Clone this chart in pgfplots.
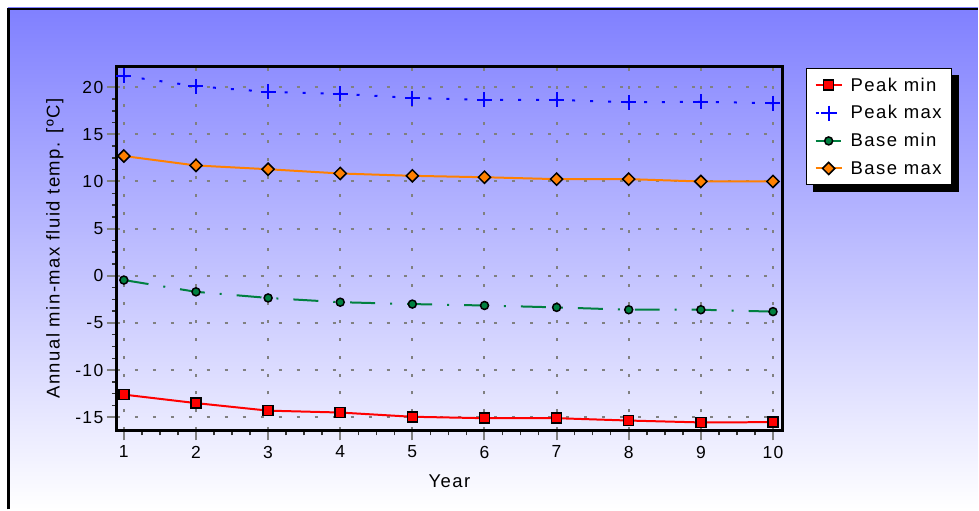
\documentclass[border=0pt]{standalone}
\usepackage{fontspec}
\setmainfont{Liberation Sans}
\newfontfamily\lblfont[LetterSpace=8]{Liberation Sans}
\newfontfamily\tickfont[LetterSpace=8]{Liberation Sans}
\newfontfamily\legfont[LetterSpace=8]{Liberation Sans}
\usepackage{pgfplots}
\pgfplotsset{compat=1.18}
\definecolor{bgtop}{RGB}{128,128,255}
\definecolor{pmin}{RGB}{255,0,0}
\definecolor{pmax}{RGB}{0,0,255}
\definecolor{bmin}{RGB}{0,128,64}
\definecolor{bmax}{RGB}{255,128,0}
\definecolor{gridgray}{RGB}{128,128,128}
\pgfdeclarelayer{bglayer}
\pgfdeclarelayer{shadowlayer}
\pgfsetlayers{bglayer,shadowlayer,main}
\begin{document}
\begin{tikzpicture}[x=1pt,y=1pt]
\begin{pgfonlayer}{bglayer}
\path[fill=white] (0,0) rectangle (979,510);
\shade[top color=bgtop, bottom color=white] (8,0) rectangle (979,502);
\draw[black, line width=2.5pt] (8.5,0) -- (8.5,501.2) -- (979,501.2);
\end{pgfonlayer}
\begin{axis}[
  at={(117pt,79pt)}, anchor=south west,
  width=666pt, height=364pt, scale only axis,
  xmin=0.903, xmax=10.125, ymin=-16.4, ymax=22.15,
  xtick={1,...,10}, ytick={-15,-10,...,20},
  minor x tick num=3, minor y tick num=3,
  tick align=outside, xtick pos=bottom, ytick pos=left,
  major tick length=10pt, minor tick length=5pt,
  major tick style={draw=gridgray, line width=2pt},
  minor tick style={draw=black!80, line width=1.5pt},
  grid=major,
  major grid style={draw=gridgray, line width=2pt, dash pattern=on 3pt off 15pt},
  axis line style={line width=3pt, line cap=rect},
  ticklabel style={font=\tickfont\fontsize{17.5pt}{20pt}\selectfont},
  xticklabel style={yshift=-2pt},
  /pgf/number format/assume math mode=true,
  xlabel={Year}, ylabel={Annual min-max fluid temp. [ºC]},
  label style={font=\lblfont\fontsize{18.5pt}{22pt}\selectfont},
  xlabel style={yshift=-10pt},
  ylabel style={yshift=5pt},
  legend style={name=leg, at={(1.036,0.997)}, anchor=north west, draw=black, line width=1.5pt,
    fill=white, font=\legfont\fontsize{18.5pt}{22pt}\selectfont,
    inner xsep=8pt, inner ysep=7pt, row sep=9pt,
    /tikz/every odd column/.append style={column sep=6pt}},
  legend cell align=left,
  legend image code/.code={\draw[mark repeat=2,mark phase=2,#1] plot coordinates {(0pt,0pt) (13pt,0pt) (26pt,0pt)};},
  clip=false,
]
\addplot[color=pmin, line width=2pt, mark=square*, mark size=5pt,
  mark options={solid, fill=pmin, draw=black, line width=1.5pt}]
  coordinates {(1,-12.6) (2,-13.5) (3,-14.3) (4,-14.5) (5,-14.95) (6,-15.1) (7,-15.1) (8,-15.35) (9,-15.55) (10,-15.52)};
\addlegendentry{Peak min}
\addplot[color=pmax, line width=2pt, dash pattern=on 3pt off 15pt, mark=+, mark size=7.5pt,
  mark options={solid, line width=2pt}]
  coordinates {(1,21.2) (2,20.1) (3,19.5) (4,19.3) (5,18.85) (6,18.65) (7,18.65) (8,18.4) (9,18.45) (10,18.3)};
\addlegendentry{Peak max}
\addplot[color=bmin, line width=2pt, dash pattern=on 25pt off 15pt on 2pt off 15pt, mark=*, mark size=4pt,
  mark options={solid, fill=bmin, draw=black, line width=1.5pt}]
  coordinates {(1,-0.45) (2,-1.7) (3,-2.35) (4,-2.8) (5,-3.0) (6,-3.15) (7,-3.35) (8,-3.6) (9,-3.6) (10,-3.8)};
\addlegendentry{Base min}
\addplot[color=bmax, line width=2pt, mark=square*, mark size=4.3pt,
  mark options={solid, rotate=45, fill=bmax, draw=black, line width=1.5pt}]
  coordinates {(1,12.7) (2,11.7) (3,11.3) (4,10.85) (5,10.6) (6,10.45) (7,10.25) (8,10.25) (9,10.0) (10,10.0)};
\addlegendentry{Base max}
\end{axis}
\begin{pgfonlayer}{shadowlayer}
\fill[black] ([xshift=7pt,yshift=-7pt]leg.south west) rectangle ([xshift=7pt,yshift=-7pt]leg.north east);
\end{pgfonlayer}
\end{tikzpicture}
\end{document}
